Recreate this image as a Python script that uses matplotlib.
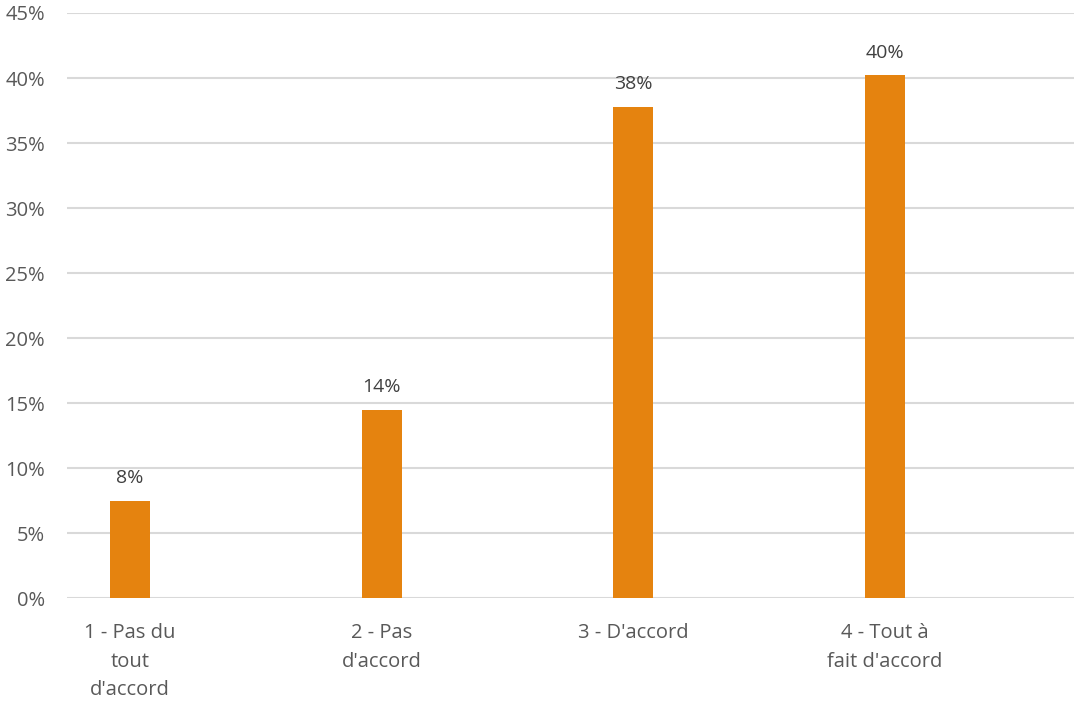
import matplotlib.pyplot as plt
import numpy as np

categories = ["1 - Pas du\ntout\nd'accord", "2 - Pas\nd'accord", "3 - D'accord", "4 - Tout à\nfait d'accord"]
values = [7.5, 14.5, 37.8, 40.2]
value_labels = ["8%", "14%", "38%", "40%"]
yticks = [0, 5, 10, 15, 20, 25, 30, 35, 40, 45]

plt.rcParams['font.family'] = ['Open Sans', 'DejaVu Sans']
grey = '#595959'

fig = plt.figure(figsize=(10.77, 7.01), dpi=100)
ax = fig.add_axes([0.0622, 0.1465, 0.935, 0.835])

x = np.arange(len(categories))
bars = ax.bar(x, values, width=0.159, color='#E5830F', zorder=3)

for b, lab in zip(bars, value_labels):
    ax.annotate(lab, (b.get_x() + b.get_width() / 2, b.get_height()),
                xytext=(0, 10), textcoords='offset points',
                ha='center', va='bottom', fontsize=14, color='#404040')

ax.set_xlim(-0.25, 3.75)
ax.set_ylim(0, 45)
ax.set_yticks(yticks)
ax.set_yticklabels([f"{t}%" for t in yticks])
ax.set_xticks(x)
ax.set_xticklabels(categories, linespacing=1.56)
ax.tick_params(axis='both', length=0, labelsize=14.5, colors=grey)
ax.tick_params(axis='y', pad=16)
ax.tick_params(axis='x', pad=18)
ax.yaxis.grid(True, color='#D9D9D9', linewidth=1.5, zorder=0)
for s in ax.spines.values():
    s.set_visible(False)

fig.savefig('out.png', dpi=100)
